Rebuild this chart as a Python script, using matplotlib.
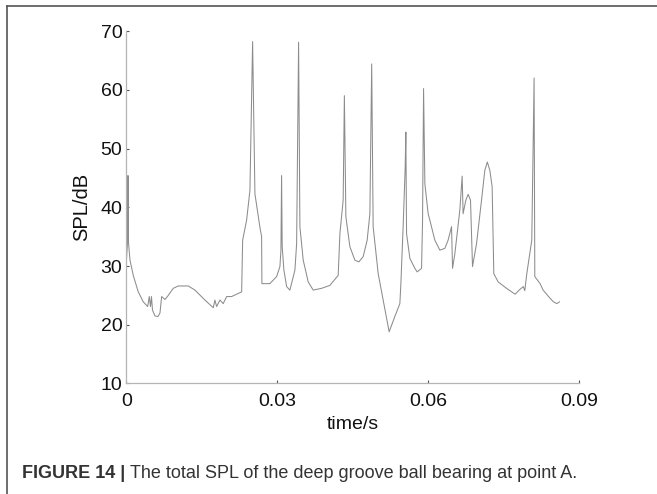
import matplotlib
matplotlib.use("Agg")
import matplotlib.pyplot as plt
from matplotlib.lines import Line2D

plt.rcParams['font.family'] = ['Liberation Sans', 'DejaVu Sans']

# total SPL at point A
time_s = [
    0.0, 0.0002, 0.0003, 0.0004, 0.0007, 0.00135, 0.00234, 0.00334, 0.00421,
    0.00453, 0.00477, 0.00497, 0.00517, 0.00566, 0.00626, 0.00666, 0.00699,
    0.00765, 0.00831, 0.0093, 0.01029, 0.01228, 0.01361, 0.0156, 0.01725,
    0.01758, 0.01792, 0.01858, 0.01923, 0.01991, 0.0209, 0.02289, 0.02309,
    0.02388, 0.02454, 0.02507, 0.02553, 0.02652, 0.02686, 0.02692, 0.02851,
    0.02984, 0.0305, 0.0307, 0.03083, 0.03095, 0.03129, 0.03183, 0.03248,
    0.03348, 0.03382, 0.03421, 0.03447, 0.03513, 0.03612, 0.03711, 0.03878,
    0.04043, 0.04208, 0.04242, 0.04307, 0.04331, 0.04361, 0.0444, 0.0454,
    0.04619, 0.04705, 0.04784, 0.04838, 0.04874, 0.04903, 0.05003, 0.05102,
    0.05221, 0.05334, 0.05434, 0.05454, 0.05499, 0.05539, 0.05553, 0.05567,
    0.05633, 0.05732, 0.05778, 0.05865, 0.05885, 0.05905, 0.05931, 0.05996,
    0.0603, 0.06129, 0.06229, 0.06328, 0.06393, 0.06461, 0.06481, 0.06527,
    0.06626, 0.06672, 0.06691, 0.06745, 0.06791, 0.06838, 0.06878, 0.06958,
    0.07057, 0.07123, 0.07172, 0.07222, 0.07268, 0.07301, 0.07387, 0.07554,
    0.07725, 0.07818, 0.07887, 0.07917, 0.07957, 0.08056, 0.08102, 0.08116,
    0.08221, 0.08281, 0.0842, 0.08487, 0.08553, 0.08607,
]
spl_db = [
    31.0, 34.0, 45.4, 34.0, 31.0, 28.4, 25.6, 23.9, 23.1,
    24.8, 23.1, 24.8, 22.5, 21.5, 21.4, 22.0, 24.8,
    24.3, 25.0, 26.2, 26.6, 26.6, 25.9, 24.2, 22.9,
    24.2, 23.1, 24.2, 23.6, 24.8, 24.8, 25.6, 34.4,
    37.8, 42.9, 68.2, 42.3, 36.6, 35.0, 27.0, 27.0,
    28.2, 29.9, 32.7, 45.4, 33.3, 29.3, 26.5, 25.9,
    29.3, 33.8, 68.1, 36.7, 31.0, 27.3, 25.9, 26.2,
    26.7, 28.4, 35.5, 41.2, 59.0, 38.4, 33.3, 31.0,
    30.7, 31.6, 34.4, 38.9, 64.4, 36.7, 28.7, 24.2,
    18.8, 21.4, 23.6, 27.0, 36.7, 46.6, 52.8, 35.5,
    31.3, 29.6, 29.0, 29.6, 37.8, 60.2, 44.0, 38.9,
    37.8, 34.4, 32.7, 33.0, 34.4, 36.7, 29.6, 32.1,
    39.5, 45.3, 38.9, 41.2, 42.2, 41.2, 29.9, 33.8,
    41.2, 46.3, 47.7, 46.3, 43.5, 28.7, 27.3, 26.2,
    25.2, 26.0, 26.5, 25.8, 28.7, 34.4, 62.0, 28.2,
    27.0, 25.9, 24.5, 23.9, 23.6, 23.9,
]

x_ticks = [0, 0.03, 0.06, 0.09]
x_tick_labels = ['0', '0.03', '0.06', '0.09']
y_ticks = [10, 20, 30, 40, 50, 60, 70]

fig = plt.figure(figsize=(6.57, 4.94), dpi=100)
ax = fig.add_axes([0.1925, 0.2237, 0.8817 - 0.1925, 0.9372 - 0.2237])

ax.plot(time_s, spl_db, color='#8c8c8c', linewidth=0.75)

ax.set_xlim(0, 0.09)
ax.set_ylim(10, 70)
ax.set_xticks(x_ticks)
ax.set_xticklabels(x_tick_labels)
ax.set_yticks(y_ticks)

for side in ['top', 'right']:
    ax.spines[side].set_visible(False)
for side in ['left', 'bottom']:
    ax.spines[side].set_color('#b4b4b4')
    ax.spines[side].set_linewidth(0.9)

ax.tick_params(direction='in', length=2.5, width=0.8, color='#555555',
               labelsize=14, labelcolor='#111111', pad=3)
ax.tick_params(axis='x', pad=7)

ax.set_xlabel('time/s', fontsize=14, color='#111111', labelpad=4)
ax.set_ylabel('SPL/dB', fontsize=14.5, color='#111111', labelpad=7)

# outer frame of the figure panel (left and top edges)
fig.add_artist(Line2D([7 / 657, 7 / 657], [0, 1 - 6 / 494], color='#555555',
                      linewidth=1.2, transform=fig.transFigure))
fig.add_artist(Line2D([7 / 657, 1], [1 - 6 / 494, 1 - 6 / 494], color='#555555',
                      linewidth=1.2, transform=fig.transFigure))

# caption
cap_y = 1 - 478 / 494
t1 = fig.text(22 / 657, cap_y, 'FIGURE 14 | ', fontsize=13, fontweight='bold',
              color='#333333', va='baseline')
fig.canvas.draw()
bb = t1.get_window_extent()
fig.text(bb.x1 / fig.bbox.width, cap_y,
         'The total SPL of the deep groove ball bearing at point A.',
         fontsize=13, color='#333333', va='baseline')

fig.savefig('out.png', dpi=100)
